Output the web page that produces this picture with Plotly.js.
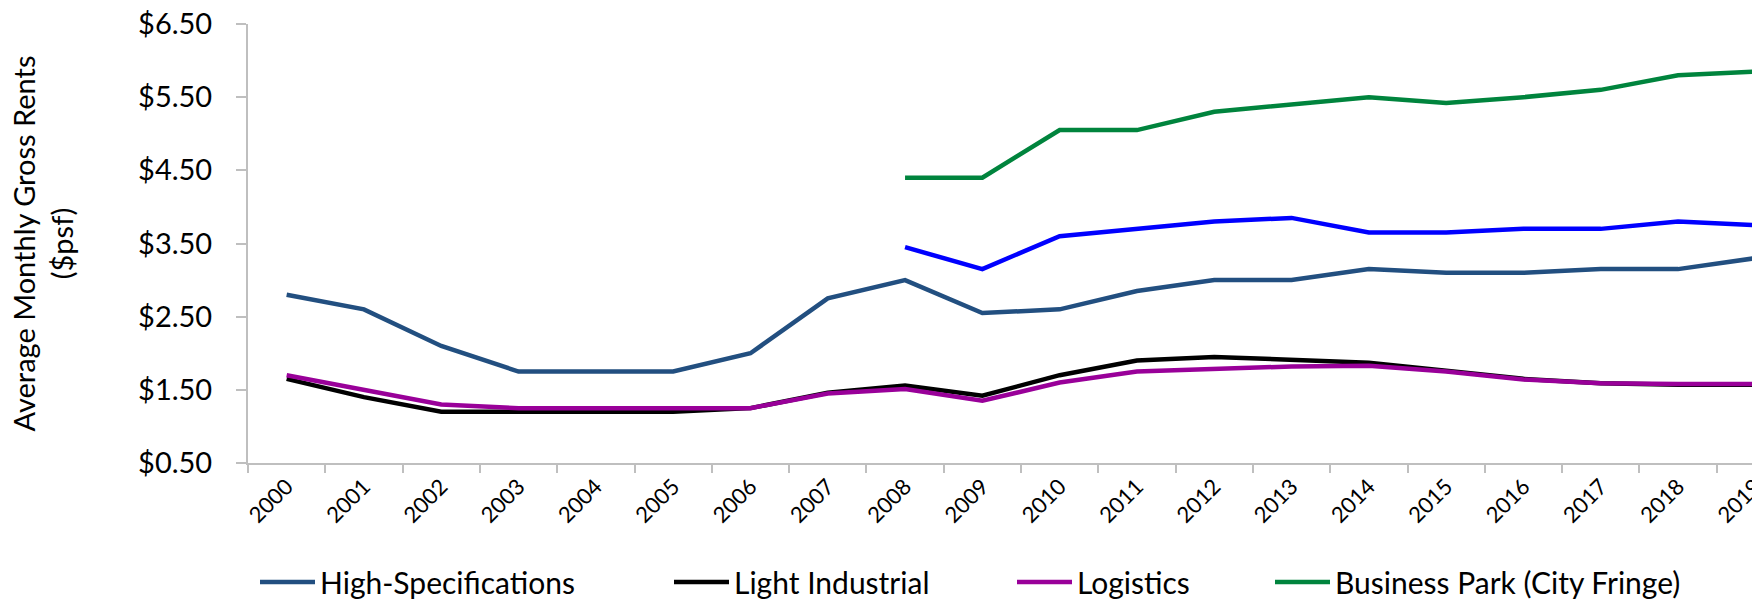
<!DOCTYPE html>
<html>
<head>
<meta charset="utf-8">
<script src="https://cdn.plot.ly/plotly-3.0.1.min.js"></script>
<style>
html, body { margin: 0; padding: 0; overflow: hidden; background: #fff; }
#chart { width: 1840px; height: 600px; }
</style>
</head>
<body>
<div id="chart"></div>
<script>
var years = ["2000","2001","2002","2003","2004","2005","2006","2007","2008","2009",
             "2010","2011","2012","2013","2014","2015","2016","2017","2018","2019"];
var highSpec     = [2.80, 2.60, 2.10, 1.75, 1.75, 1.75, 2.00, 2.75, 3.00, 2.55,
                    2.60, 2.85, 3.00, 3.00, 3.15, 3.10, 3.10, 3.15, 3.15, 3.30];
var lightInd     = [1.65, 1.40, 1.20, 1.20, 1.20, 1.20, 1.25, 1.46, 1.56, 1.42,
                    1.70, 1.90, 1.95, 1.91, 1.87, 1.76, 1.65, 1.59, 1.57, 1.57];
var logistics    = [1.70, 1.50, 1.30, 1.25, 1.25, 1.25, 1.25, 1.45, 1.51, 1.35,
                    1.60, 1.75, 1.78, 1.82, 1.83, 1.75, 1.64, 1.59, 1.58, 1.58];
var businessPark = [null, null, null, null, null, null, null, null, 4.40, 4.40,
                    5.05, 5.05, 5.30, 5.40, 5.50, 5.42, 5.50, 5.60, 5.80, 5.85];
var unlabelled   = [null, null, null, null, null, null, null, null, 3.45, 3.15,
                    3.60, 3.70, 3.80, 3.85, 3.65, 3.65, 3.70, 3.70, 3.80, 3.75];
var yTickVals = [0.5, 1.5, 2.5, 3.5, 4.5, 5.5, 6.5];
var yTickText = ["$0.50", "$1.50", "$2.50", "$3.50", "$4.50", "$5.50", "$6.50"];

var W = 1840;
var FONT = "Lato, 'Open Sans', sans-serif";

function tr(name, y, color, leg) {
  var t = { type: "scatter", mode: "lines", name: name, x: years, y: y,
            line: { color: color, width: 4.5 }, connectgaps: false };
  if (leg) { t.legend = leg; } else { t.showlegend = false; }
  return t;
}

var data = [
  tr("High-Specifications", highSpec, "#224F80", "legend"),
  tr("Light Industrial", lightInd, "#000000", "legend2"),
  tr("Logistics", logistics, "#990099", "legend3"),
  tr("Business Park (City Fringe)", businessPark, "#00843D", "legend4"),
  tr("Unlabelled series", unlabelled, "#0000FF", null)
];

function leg(px) {
  return { orientation: "h", xref: "container", yref: "container",
           x: px / W, y: 1 - 582 / 600, xanchor: "left", yanchor: "middle",
           font: { family: FONT, size: 30, color: "#000" },
           bgcolor: "rgba(0,0,0,0)", borderwidth: 0, itemwidth: 55 };
}

var layout = {
  width: W, height: 600,
  margin: { l: 248, r: 46, t: 24, b: 137 },
  paper_bgcolor: "#fff", plot_bgcolor: "#fff",
  font: { family: FONT, color: "#000" },
  xaxis: {
    type: "category", range: [-0.5, 19.5],
    showgrid: false, zeroline: false,
    showline: true, linecolor: "#BFBFBF", linewidth: 2,
    ticks: "outside", tickson: "boundaries", ticklen: 8, tickcolor: "#BFBFBF", tickwidth: 2,
    tickangle: -45, tickfont: { family: FONT, size: 22, color: "#000" }
  },
  yaxis: {
    range: [0.5, 6.5], tickvals: yTickVals, ticktext: yTickText,
    showgrid: false, zeroline: false,
    showline: true, linecolor: "#BFBFBF", linewidth: 2,
    ticks: "outside", ticklen: 10, tickcolor: "#BFBFBF", tickwidth: 2,
    ticklabelstandoff: 18,
    tickfont: { family: FONT, size: 29, color: "#000" },
    title: { text: "Average Monthly Gross Rents<br>($psf)", standoff: 56,
             font: { family: FONT, size: 29, color: "#000" } },
    automargin: false
  },
  legend: leg(255),
  legend2: leg(669),
  legend3: leg(1012),
  legend4: leg(1270)
};

Plotly.newPlot("chart", data, layout, { displayModeBar: false, staticPlot: true });
</script>
</body>
</html>
